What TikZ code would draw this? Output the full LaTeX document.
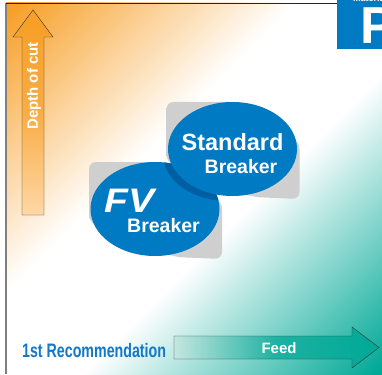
\documentclass[tikz,border=0pt]{standalone}
\usepackage{fontspec}
\setmainfont{Liberation Sans}
\usepackage{tikz}
\usetikzlibrary{shapes.geometric,positioning}
\newcommand{\TextSize}[1]{\fontsize{#1}{#1}\selectfont}
\newcommand{\Pillow}[1]{\shade[pillowshade, shift={(#1)}] (-66,-48) -- (5,-48) -- (67,-8) -- (67,49) -- (20,47) -- (-66,12) -- cycle;}
\definecolor{depthorange}{RGB}{247,158,36}
\definecolor{depthlight}{RGB}{254,216,166}
\definecolor{feedteal}{RGB}{0,168,150}
\definecolor{feedlight}{RGB}{196,230,224}
\definecolor{breakerblue}{RGB}{0,122,194}
\definecolor{breakershadow}{RGB}{0,94,162}
\definecolor{recblue}{RGB}{18,120,200}
\pgfdeclareverticalshading{cornerfade}{100bp}{color(0bp)=(feedteal); color(15bp)=(feedteal); color(43bp)=(white); color(58bp)=(white); color(85bp)=(depthorange); color(100bp)=(depthorange)}
\tikzset{
  breaker/.style={ellipse, fill=breakerblue, minimum width=129pt, minimum height=94pt, inner sep=0pt},
  pillowshade/.style={rounded corners=7pt, inner color=white, outer color=gray!38},
  whitetext/.style={text=white, inner sep=0pt, anchor=base},
}

\begin{document}
\begin{tikzpicture}[x=1pt,y=-1pt]
		\useasboundingbox (0,0) rectangle (382,374);
		% Background
		\shade[shading=cornerfade, shading angle=45] (6,3) rectangle (382,374);
		\draw[gray, line width=1.5pt] (6,3) -- (6,374);
		\draw[black!85, line width=0.8pt] (6,3) -- (337,3);
		\fill[breakerblue] (337,0) rectangle (382,49);
		\node[whitetext, anchor=base west, font=\bfseries\TextSize{9}] (mat) at (353,2) {Material};
		\node[whitetext, anchor=base west, font=\bfseries\TextSize{52}] (grade) at (360,44) {P};

		% Axes
		\draw[black!80, top color=depthorange, bottom color=depthlight, middle color=depthorange!75!depthlight] (22,215) -- (22,37) -- (13,37) -- (33,10) -- (53,37) -- (44,37) -- (44,215) -- cycle;
		\node[whitetext, anchor=center, rotate=90, font=\bfseries\TextSize{15}] (depth) at (34,86) {Depth of cut};
		\draw[black!80, left color=feedlight, right color=feedteal, middle color=feedteal!85!feedlight] (174,336) -- (352,336) -- (352,327) -- (379,347.5) -- (352,368) -- (352,359) -- (174,359) -- cycle;
		\node[whitetext, font=\bfseries\TextSize{15}] (feed) at (279,353) {Feed};
		\node[anchor=base west, inner sep=0pt, xscale=0.73, text=recblue, font=\bfseries\TextSize{19.5}] (rec) at (22,357) {1st Recommendation};

		% Breakers
		\Pillow{232.5,150}
		\Pillow{155,210}
		\node[breaker] (fv) at (155,209) {};
		\begin{scope}
			\clip (fv.center) ellipse [x radius=64.5, y radius=47];
			\fill[breakershadow] ([xshift=-5pt,yshift=-5pt]232.5,149) ellipse [x radius=64.5, y radius=47];
		\end{scope}
		\node[breaker] (std) at (232.5,149) {};

		\node[whitetext, font=\bfseries\TextSize{23.5}] (stdname) at (232.5,150) {Standard};
		\node[whitetext, font=\bfseries\TextSize{19.5}] (stdkind) at (241,173) {Breaker};
		\node[whitetext, anchor=base west, xscale=1.15, font=\bfseries\itshape\TextSize{34}] (fvname) at (104,212) {FV};
		\node[whitetext, font=\bfseries\TextSize{19.5}] (fvkind) at (163.5,232) {Breaker};
	\end{tikzpicture}
\end{document}
